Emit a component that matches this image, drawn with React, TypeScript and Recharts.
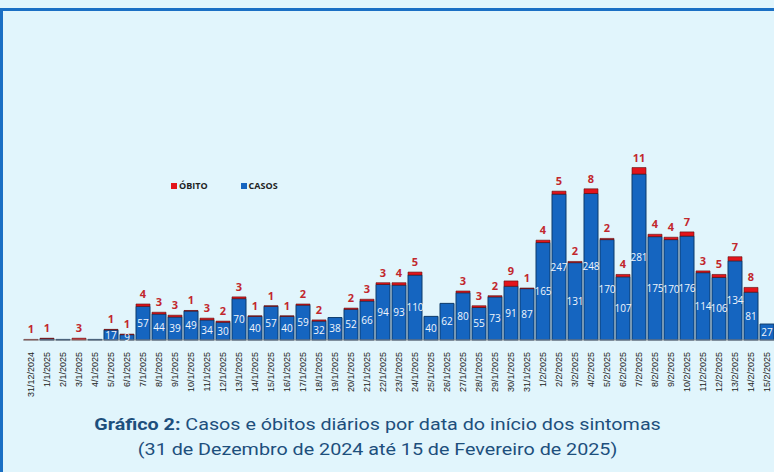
// Daily cases and deaths by symptom onset date, stacked bars with value labels.

import { BarChart, Bar, XAxis, YAxis, LabelList } from "recharts";

const dates = [
  "31/12/2024", "1/1/2025", "2/1/2025", "3/1/2025", "4/1/2025", "5/1/2025", "6/1/2025",
  "7/1/2025", "8/1/2025", "9/1/2025", "10/1/2025", "11/1/2025", "12/1/2025", "13/1/2025",
  "14/1/2025", "15/1/2025", "16/1/2025", "17/1/2025", "18/1/2025", "19/1/2025", "20/1/2025",
  "21/1/2025", "22/1/2025", "23/1/2025", "24/1/2025", "25/1/2025", "26/1/2025", "27/1/2025",
  "28/1/2025", "29/1/2025", "30/1/2025", "31/1/2025", "1/2/2025", "2/2/2025", "3/2/2025",
  "4/2/2025", "5/2/2025", "6/2/2025", "7/2/2025", "8/2/2025", "9/2/2025", "10/2/2025",
  "11/2/2025", "12/2/2025", "13/2/2025", "14/2/2025", "15/2/2025",
];

const casos = [
  0, 2, 1, 0, 1, 17, 9,
  57, 44, 39, 49, 34, 30, 70,
  40, 57, 40, 59, 32, 38, 52,
  66, 94, 93, 110, 40, 62, 80,
  55, 73, 91, 87, 165, 247, 131,
  248, 170, 107, 281, 175, 170, 176,
  114, 106, 134, 81, 27,
];

const obitos = [
  1, 1, 0, 3, 0, 1, 1,
  4, 3, 3, 1, 3, 2, 3,
  1, 1, 1, 2, 2, 0, 2,
  3, 3, 4, 5, 0, 0, 3,
  3, 2, 9, 1, 4, 5, 2,
  8, 2, 4, 11, 4, 4, 7,
  3, 5, 7, 8, 0,
];

const data = dates.map((d, i) => ({ date: d, casos: casos[i], obito: obitos[i] }));

const BLUE = "#1565c0";
const RED = "#e3141b";
const DARK_RED = "#c1272d";

function DateTick(props: any) {
  const { x, y, payload } = props;
  return (
    <g transform={`translate(${x},${y + 4})`}>
      <text
        transform="rotate(-90)"
        textAnchor="end"
        dy="0.35em"
        fontSize={9}
        fill="#222"
        fontFamily="Liberation Sans, sans-serif"
      >
        {payload.value}
      </text>
    </g>
  );
}

function LegendBox() {
  const item = (color: string, text: string) => (
    <span style={{ display: "inline-flex", alignItems: "center", marginRight: 33 }}>
      <span style={{ width: 6, height: 6, background: color, marginRight: 2, display: "inline-block" }} />
      <span style={{ fontSize: 9, fontWeight: 700, color: "#222" }}>{text}</span>
    </span>
  );
  return (
    <div
      style={{
        position: "absolute",
        left: 171,
        top: 179,
        fontFamily: "Open Sans, sans-serif",
        display: "flex",
      }}
    >
      {item(RED, "ÓBITO")}
      {item(BLUE, "CASOS")}
    </div>
  );
}

export default function App() {
  return (
    <div
      style={{
        position: "absolute",
        left: 0,
        top: 0,
        width: 774,
        height: 472,
        overflow: "hidden",
        background: "#e1f5fc",
      }}
    >
      <div
        style={{
          position: "absolute",
          left: 0,
          top: 8,
          width: 800,
          height: 500,
          borderTop: "3px solid #1a6fc4",
          borderLeft: "3px solid #1a6fc4",
        }}
      />
      <div style={{ position: "absolute", left: 0, top: 0 }}>
        <BarChart
          width={780}
          height={400}
          data={data}
          margin={{ top: 151, right: 5, bottom: 5, left: 23 }}
          barCategoryGap={1}
        >
          <XAxis
            dataKey="date"
            interval={0}
            height={55}
            tick={<DateTick />}
            tickLine={false}
            axisLine={{ stroke: "#888" }}
          />
          <YAxis hide domain={[0, 320]} />
          <Bar dataKey="casos" stackId="a" fill={BLUE} stroke="#0c3a6a" strokeWidth={1} isAnimationActive={false}>
            <LabelList
              dataKey="casos"
              position="center"
              fill="#f2f6fb"
              fontSize={10}
              fontFamily="Open Sans, sans-serif"
              formatter={(v: any) => (v >= 5 ? v : "")}
            />
          </Bar>
          <Bar dataKey="obito" stackId="a" fill={RED} stroke="#5a1010" strokeWidth={0.6} isAnimationActive={false}>
            <LabelList
              dataKey="obito"
              position="top"
              offset={6}
              fill={DARK_RED}
              fontSize={11}
              fontWeight={700}
              fontFamily="Open Sans, sans-serif"
              formatter={(v: any) => (v ? v : "")}
            />
          </Bar>
        </BarChart>
      </div>
      <LegendBox />
      <div
        style={{
          position: "absolute",
          left: 0,
          top: 412,
          width: 755,
          textAlign: "center",
          fontFamily: "Roboto, sans-serif",
          fontSize: 17,
          lineHeight: "25px",
          color: "#1d4f7c",
          transform: "scaleX(1.16)",
          transformOrigin: "377px 0",
        }}
      >
        <div>
          <b>Gráfico 2:</b> Casos e óbitos diários por data do início dos sintomas
        </div>
        <div>(31 de Dezembro de 2024 até 15 de Fevereiro de 2025)</div>
      </div>
    </div>
  );
}
